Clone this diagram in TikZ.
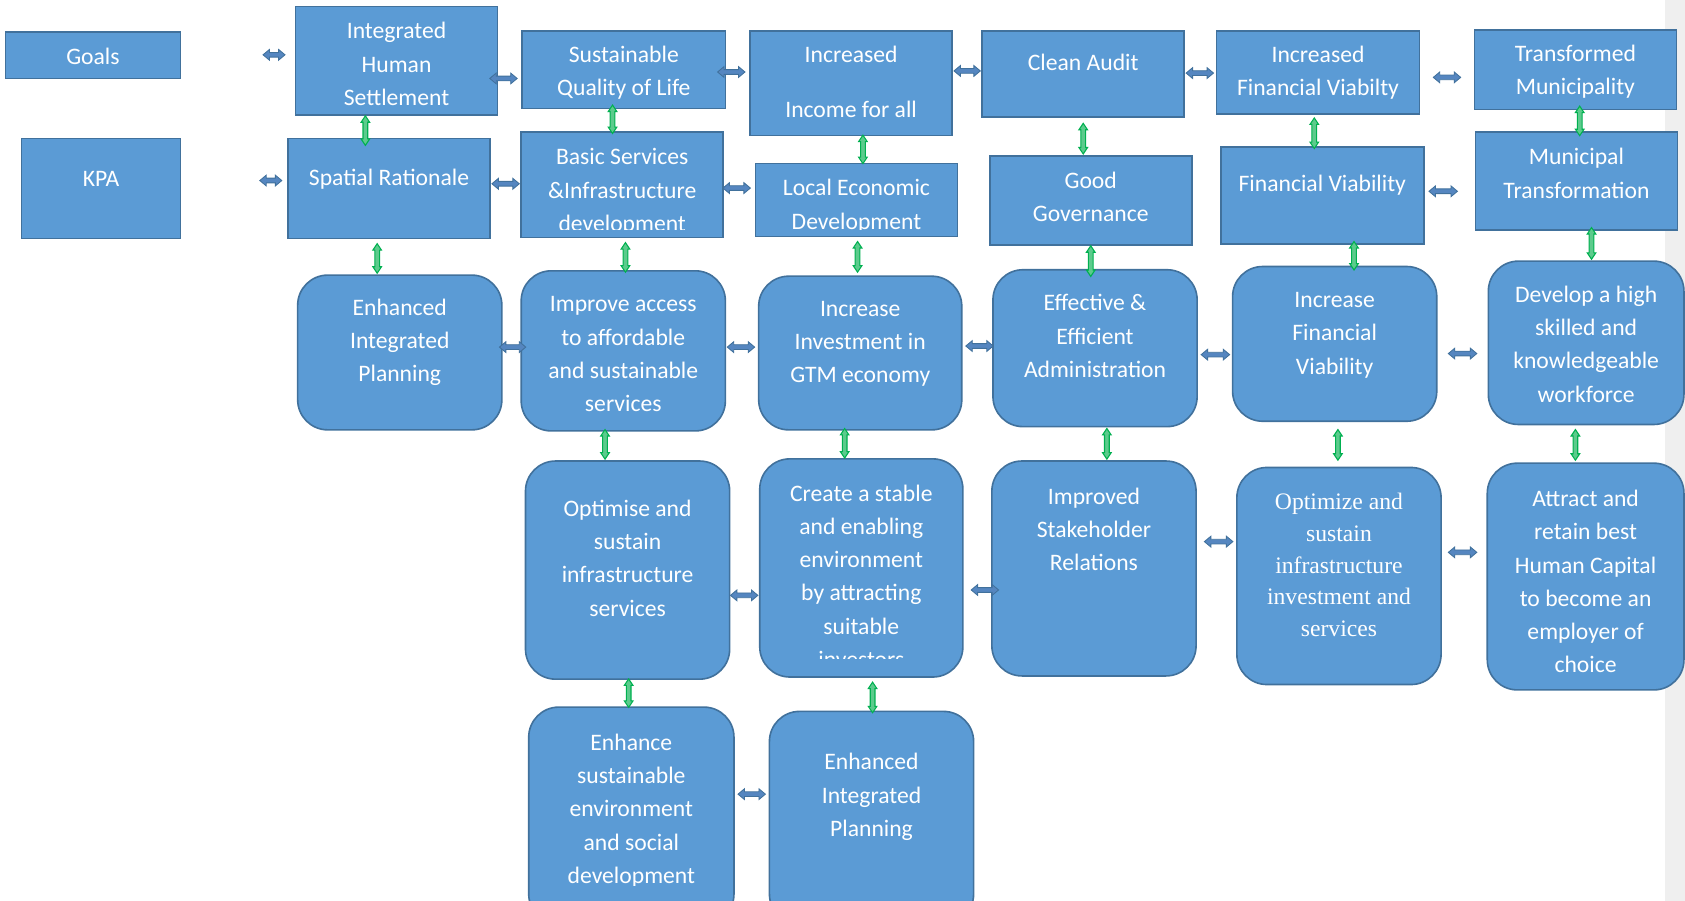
\documentclass[tikz,border=0pt]{standalone}
\usepackage{fontspec}
\setmainfont{Carlito}
\newfontfamily\timesfont{Liberation Serif}
\usetikzlibrary{calc,fit}
\definecolor{boxfill}{HTML}{5B9BD5}
\definecolor{boxline}{HTML}{41719C}
\definecolor{arrfill}{HTML}{5586C0}
\definecolor{arrline}{HTML}{41719C}
\definecolor{gline}{HTML}{00B050}
\definecolor{gfill}{HTML}{5CCB8C}
\definecolor{band}{HTML}{EFEFEF}
\tikzset{
  box/.style={draw=boxline, fill=boxfill, line width=1.5pt, inner sep=0pt},
  rbox/.style={box, rounded corners=28pt},
  txt/.style={text=white, align=center, inner sep=0pt, anchor=base, yshift=-3pt, font=\fontsize{22}{31}\selectfont},
  serif/.style={font=\timesfont\fontsize{22}{29.5}\selectfont},
  harr/.style={draw=arrline, fill=arrfill, line width=0.8pt,
    to path={let \p1=(\tikztostart), \p2=(\tikztotarget) in
      (\x1,\y1) -- ++(6pt,5pt) -- ++(0,-2.8pt) -- (\x2-6pt,\y1+2.2pt) -- ++(0,2.8pt) -- (\x2,\y1)
      -- ++(-6pt,-5pt) -- ++(0,2.8pt) -- (\x1+6pt,\y1-2.2pt) -- ++(0,-2.8pt) -- cycle}},
  varr/.style={draw=gline, fill=gfill, line width=1pt,
    to path={let \p1=(\tikztostart), \p2=(\tikztotarget) in
      (\x1,\y1) -- ++(4pt,-6pt) -- ++(-1.8pt,0) -- (\x1+2.2pt,\y2+6pt) -- ++(1.8pt,0) -- (\x1,\y2)
      -- ++(-4pt,6pt) -- ++(1.8pt,0) -- (\x1-2.2pt,\y1-6pt) -- ++(-1.8pt,0) -- cycle}},
}
\begin{document}
\begin{tikzpicture}[x=1pt,y=-1pt]
\useasboundingbox (0,0) rectangle (1568,838);
\clip (0,0) rectangle (1568,838);
\fill[band] (1549,0) rectangle (1568,838);

% ---------- goal row (rectangles) ----------
\node[box, fit={(5,30)(168,73)}] (goals) {};
\node[box, fit={(20,129)(168,222)}] (kpa) {};
\node[box, fit={(275,6)(463,107)}] (ihs) {};
\node[box, fit={(486,29)(675,101)}] (sql) {};
\node[box, fit={(698,29)(886,126)}] (ii) {};
\node[box, fit={(914,29)(1102,109)}] (ca) {};
\node[box, fit={(1132,29)(1321,106)}] (ifv) {};
\node[box, fit={(1372,28)(1560,102)}] (tm) {};
% ---------- KPA row ----------
\node[box, fit={(268,129)(456,222)}] (sr) {};
\node[box, fit={(485,123)(673,221)}] (bs) {};
\node[box, fit={(703,152)(891,220)}] (led) {};
\node[box, fit={(921,145)(1109,228)}] (gg) {};
\node[box, fit={(1136,137)(1325,227)}] (fv) {};
\node[box, fit={(1373,123)(1561,214)}] (mt) {};
% ---------- objectives (rounded) ----------
\node[rbox, fit={(277,256)(467,400)}] (eip1) {};
\node[rbox, fit={(485,252)(675,401)}] (ia) {};
\node[rbox, fit={(706,257)(895,400)}] (iig) {};
\node[rbox, fit={(924,251)(1114,397)}] (eea) {};
\node[rbox, fit={(1147,248)(1337,392)}] (ifvb) {};
\node[rbox, fit={(1385,243)(1567,395)}] (dh) {};
\node[rbox, fit={(489,429)(679,632)}] (os) {};
\node[rbox, fit={(707,427)(896,630)}] (cs) {};
\node[rbox, fit={(923,429)(1113,629)}] (isr) {};
\node[rbox, fit={(1151,435)(1341,637)}] (osi) {};
\node[rbox, fit={(1384,431)(1567,642)}] (ar) {};
\node[rbox, fit={(492,658)(683,860)}] (ese) {};
\node[rbox, fit={(716,662)(906,860)}] (eipb) {};

% ---------- texts (anchor = baseline of the last line) ----------
\node[txt] (goals-t) at ([shift={(0,28)}]goals.north) {Goals};
\node[txt] (kpa-t) at ([shift={(0,42)}]kpa.north) {KPA};
\node[txt] (ihs-t) at ([shift={(0,90)}]ihs.north) {Integrated\\Human\\Settlement};
\node[txt] (sql-t) at ([shift={(0,58)}]sql.north) {Sustainable\\Quality of Life};
\node[txt] (ii-t) at ([shift={(0,78)}]ii.north) {Increased\\[20pt]Income for all};
\node[txt] (ca-t) at ([shift={(0,34)}]ca.north) {Clean Audit};
\node[txt] (ifv-t) at ([shift={(0,58)}]ifv.north) {Increased\\Financial Viabilty};
\node[txt] (tm-t) at ([shift={(0,58)}]tm.north) {Transformed\\Municipality};
\node[txt] (sr-t) at ([shift={(0,41)}]sr.north) {Spatial Rationale};
\begin{scope}
  \clip (bs.north west) rectangle ([shift={(0,-8)}]bs.south east);
  \node[txt] (bs-t) at ([shift={(0,90)}]bs.north) {Basic Services\\\&Infrastructure\\development};
\end{scope}
\begin{scope}
  \clip (led.north west) rectangle ([shift={(0,-7)}]led.south east);
  \node[txt] (led-t) at ([shift={(0,59)}]led.north) {Local Economic\\Development};
\end{scope}
\node[txt] (gg-t) at ([shift={(0,59)}]gg.north) {Good\\Governance};
\node[txt] (fv-t) at ([shift={(0,39)}]fv.north) {Financial Viability};
\node[txt] (mt-t) at ([shift={(0,59)}]mt.north) {Municipal\\Transformation};

\node[txt] (eip1-t) at ([shift={(0,97)}]eip1.north) {Enhanced\\Integrated\\Planning};
\node[txt] (ia-t) at ([shift={(0,129)}]ia.north) {Improve access\\to affordable\\and sustainable\\services};
\node[txt] (iig-t) at ([shift={(0,97)}]iig.north) {Increase\\Investment in\\GTM economy};
\node[txt] (eea-t) at ([shift={(0,98)}]eea.north) {Effective \&\\Efficient\\Administration};
\node[txt] (ifvb-t) at ([shift={(0,98)}]ifvb.north) {Increase\\Financial\\Viability};
\node[txt] (dh-t) at ([shift={(0,129)}]dh.north) {Develop a high\\skilled and\\knowledgeable\\workforce};
\node[txt] (os-t) at ([shift={(0,142)}]os.north) {Optimise and\\sustain\\infrastructure\\services};
\begin{scope}
  \clip (cs.north west) rectangle ([shift={(0,-18)}]cs.south east);
  \node[txt] (cs-t) at ([shift={(0,192)}]cs.north) {Create a stable\\and enabling\\environment\\by attracting\\suitable\\investors};
\end{scope}
\node[txt] (isr-t) at ([shift={(0,100)}]isr.north) {Improved\\Stakeholder\\Relations};
\node[txt, serif] (osi-t) at ([shift={(0,155)}]osi.north) {Optimize and\\sustain\\infrastructure\\investment and\\services};
\node[txt] (ar-t) at ([shift={(0,193)}]ar.north) {Attract and\\retain best\\Human Capital\\to become an\\employer of\\choice};
\begin{scope}
  \clip (ese.north west) rectangle ([shift={(0,-37)}]ese.south east);
  \node[txt] (ese-t) at ([shift={(0,162)}]ese.north) {Enhance\\sustainable\\environment\\and social\\development};
\end{scope}
\node[txt] (eipb-t) at ([shift={(0,114)}]eipb.north) {Enhanced\\Integrated\\Planning};

% ---------- horizontal (blue) arrows ----------
\path[harr] ([shift={(76,-0.5)}]goals.east) to ([shift={(-9,0)}]ihs.west);
\path[harr] ([shift={(73,-7.5)}]kpa.east) to ([shift={(-5,0)}]sr.west);
\path[harr] ([shift={(-8,16.5)}]ihs.east) to ([shift={(-4,0)}]sql.west);
\path[harr] ([shift={(-8,2)}]sql.east) to ([shift={(-4,0)}]ii.west);
\path[harr] ([shift={(1,-11.5)}]ii.east) to ([shift={(-1,0)}]ca.west);
\path[harr] ([shift={(1,-1)}]ca.east) to ([shift={(-2,0)}]ifv.west);
\path[harr] ([shift={(12,4.5)}]ifv.east) to ([shift={(-12,0)}]tm.west);
\path[harr] ([shift={(1,-4.5)}]sr.east) to ([shift={(-1,0)}]bs.west);
\path[harr] ([shift={(-1,3)}]bs.east) to ([shift={(-4,0)}]led.west);
\path[harr] ([shift={(4,-4)}]fv.east) to ([shift={(-16,0)}]mt.west);
\path[harr] ([shift={(-3,-5)}]eip1.east) to ([shift={(5,0)}]ia.west);
\path[harr] ([shift={(1,-3.5)}]ia.east) to ([shift={(-3,0)}]iig.west);
\path[harr] ([shift={(3,-6.5)}]iig.east) to ([shift={(1,0)}]eea.west);
\path[harr] ([shift={(3,6)}]eea.east) to ([shift={(-2,0)}]ifvb.west);
\path[harr] ([shift={(10,9)}]ifvb.east) to ([shift={(-10,0)}]dh.west);
\path[harr] ([shift={(0,23.5)}]os.east) to ([shift={(-1,0)}]cs.west);
\path[harr] ([shift={(7,20.5)}]cs.east) to ([shift={(7,0)}]isr.west);
\path[harr] ([shift={(7,-25)}]isr.east) to ([shift={(-3,0)}]osi.west);
\path[harr] ([shift={(6,-22)}]osi.east) to ([shift={(-9,0)}]ar.west);
\path[harr] ([shift={(3,-20)}]ese.east) to ([shift={(-3,0)}]eipb.west);

% ---------- vertical (green) arrows ----------
\path[varr] ([shift={(-29,0)}]ihs.south) to ([shift={(0,7)}]sr.north);
\path[varr] ([shift={(-11,4)}]sr.south) to ([shift={(0,-1)}]eip1.north);
\path[varr] ([shift={(-10.5,-4)}]sql.south) to ([shift={(0,2)}]bs.north);
\path[varr] ([shift={(11,-1)}]ii.south) to ([shift={(0,1)}]led.north);
\path[varr] ([shift={(0,5)}]ca.south) to ([shift={(0,-1)}]gg.north);
\path[varr] ([shift={(-3.5,3)}]ifv.south) to ([shift={(0,2)}]fv.north);
\path[varr] ([shift={(4,-4)}]tm.south) to ([shift={(0,4)}]mt.north);
\path[varr] ([shift={(3,4)}]bs.south) to ([shift={(0,2)}]ia.north);
\path[varr] ([shift={(1,4)}]led.south) to ([shift={(0,-3)}]iig.north);
\path[varr] ([shift={(0,0)}]gg.south) to ([shift={(0,7)}]eea.north);
\path[varr] ([shift={(29.5,-3)}]fv.south) to ([shift={(0,4)}]ifvb.north);
\path[varr] ([shift={(14,-3)}]mt.south) to ([shift={(0,-1)}]dh.north);
\path[varr] ([shift={(-17,-2)}]ia.south) to ([shift={(0,-1)}]os.north);
\path[varr] ([shift={(-14.5,-2)}]iig.south) to ([shift={(0,0)}]cs.north);
\path[varr] ([shift={(11,1)}]eea.south) to ([shift={(0,-1)}]isr.north);
\path[varr] ([shift={(3,7)}]ifvb.south) to ([shift={(0,-6)}]osi.north);
\path[varr] ([shift={(-10,4)}]dh.south) to ([shift={(0,-2)}]ar.north);
\path[varr] ([shift={(1,-1)}]os.south) to ([shift={(0,1)}]ese.north);
\path[varr] ([shift={(10.5,4)}]cs.south) to ([shift={(0,2)}]eipb.north);
\end{tikzpicture}
\end{document}
